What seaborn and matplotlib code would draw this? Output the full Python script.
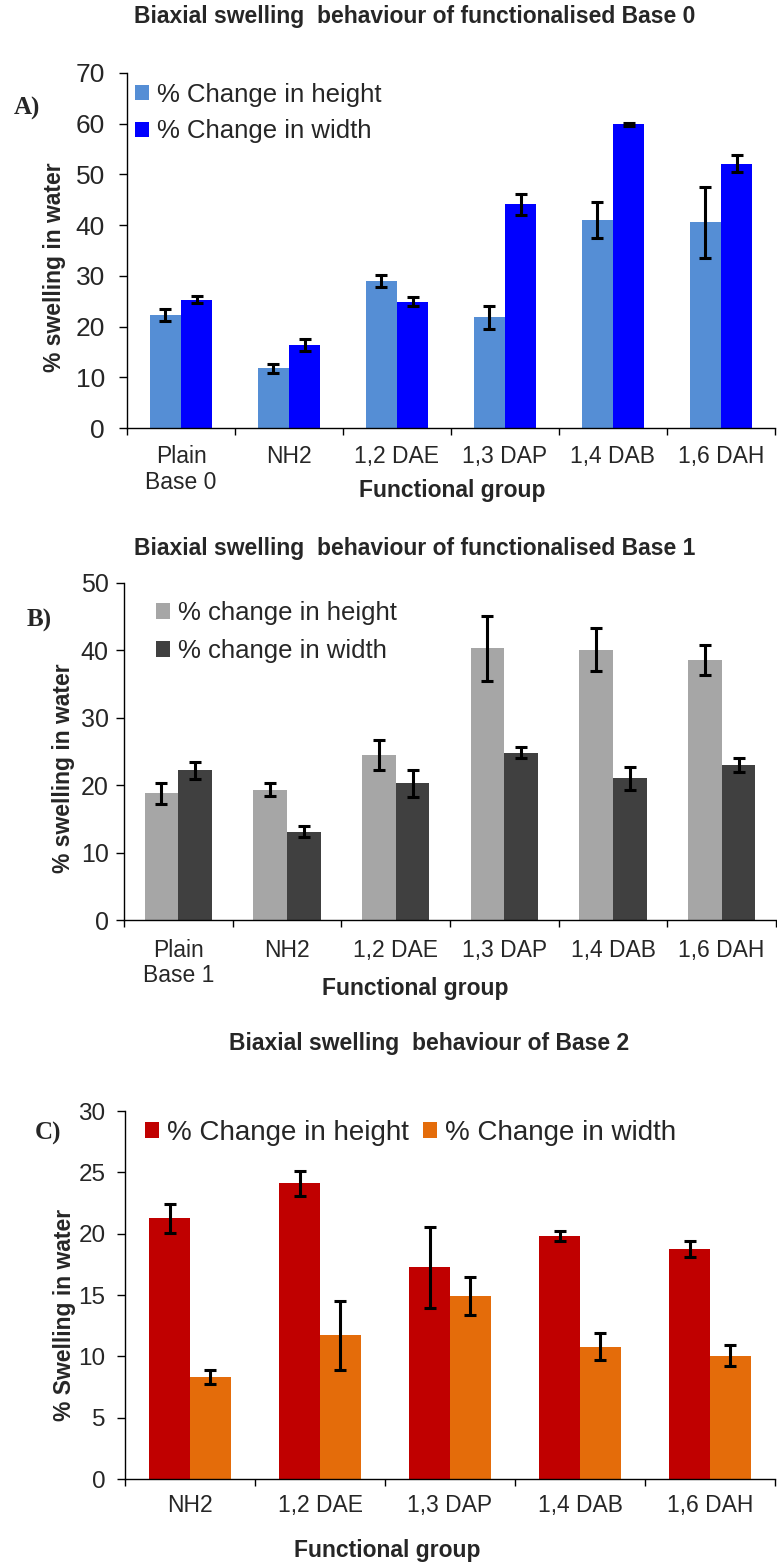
import numpy as np
import pandas as pd
import matplotlib
matplotlib.use("Agg")
import matplotlib.pyplot as plt
import seaborn as sns

# ---------------- data ----------------
groups_a = ["Plain\nBase 0", "NH2", "1,2 DAE", "1,3 DAP", "1,4 DAB", "1,6 DAH"]
height_a = [22.3, 11.8, 29.0, 21.8, 41.0, 40.6]
height_a_err = [1.2, 0.9, 1.1, 2.3, 3.5, 7.0]
width_a = [25.3, 16.4, 24.9, 44.1, 59.9, 52.1]
width_a_err = [0.65, 1.2, 0.9, 2.1, 0.3, 1.7]

groups_b = ["Plain\nBase 1", "NH2", "1,2 DAE", "1,3 DAP", "1,4 DAB", "1,6 DAH"]
height_b = [18.8, 19.35, 24.5, 40.3, 40.1, 38.6]
height_b_err = [1.55, 1.0, 2.2, 4.8, 3.2, 2.2]
width_b = [22.2, 13.1, 20.3, 24.8, 21.0, 23.0]
width_b_err = [1.3, 0.8, 2.0, 0.8, 1.7, 1.0]

groups_c = ["NH2", "1,2 DAE", "1,3 DAP", "1,4 DAB", "1,6 DAH"]
height_c = [21.25, 24.1, 17.25, 19.8, 18.75]
height_c_err = [1.2, 1.0, 3.3, 0.4, 0.65]
width_c = [8.3, 11.7, 14.95, 10.8, 10.05]
width_c_err = [0.55, 2.8, 1.55, 1.1, 0.85]

series_a = ["% Change in height", "% Change in width"]
series_b = ["% change in height", "% change in width"]
series_c = ["% Change in height", "% Change in width"]

colors_a = ["#558ED5", "#0000FF"]
colors_b = ["#A6A6A6", "#404040"]
colors_c = ["#C00000", "#E46C0A"]

# ---------------- style ----------------
sns.set_theme(style="ticks")
plt.rcParams["font.family"] = ["Liberation Sans", "DejaVu Sans"]

W, H = 777, 1564
fig = plt.figure(figsize=(W / 100, H / 100), dpi=100)


def fx(px):
    return px / W


def fy(py):
    return 1 - py / H


def panel(rect, groups, h, herr, w, werr, labels, colors, bw, ymax, ystep,
          ytick_fs, ytick_pad, xtick_pad, title, title_xy, ylabel, ylabel_xy,
          xlabel_xy, letter, letter_xy, leg_xy, leg_fs, leg_ncol, leg_spacing):
    l, t, r, b = rect
    ax = fig.add_axes([fx(l), fy(b), fx(r - l), (b - t) / H])
    n = len(groups)
    df = pd.DataFrame({
        "group": list(groups) * 2,
        "value": list(h) + list(w),
        "series": [labels[0]] * n + [labels[1]] * n,
    })
    sns.barplot(data=df, x="group", y="value", hue="series", order=groups,
                hue_order=labels, palette=colors, width=bw, errorbar=None,
                saturation=1, linewidth=0, ax=ax)
    for cont, err in zip(ax.containers, [herr, werr]):
        xs = [p.get_x() + p.get_width() / 2 for p in cont]
        ys = [p.get_height() for p in cont]
        ax.errorbar(xs, ys, yerr=err, fmt="none", ecolor="black",
                    elinewidth=2.2, capsize=4, capthick=2.2, zorder=5)

    old = ax.get_legend()
    handles = old.legend_handles
    labs = [tx.get_text() for tx in old.texts]
    old.remove()
    hs = 10 / leg_fs
    ax.legend(handles, labs, loc="center left",
              bbox_to_anchor=(fx(leg_xy[0]), fy(leg_xy[1])),
              bbox_transform=fig.transFigure, frameon=False, fontsize=leg_fs,
              handlelength=hs, handleheight=hs, handletextpad=0.3,
              labelspacing=leg_spacing, borderpad=0, borderaxespad=0,
              ncol=leg_ncol, columnspacing=0.5)

    ax.set_ylim(0, ymax)
    ax.set_yticks(np.arange(0, ymax + 0.1, ystep))
    ax.tick_params(axis="y", labelsize=ytick_fs, length=6, width=1,
                   pad=ytick_pad, color="black")
    ax.set_xticks(np.arange(n + 1) - 0.5)
    ax.set_xticklabels([])
    ax.set_xticks(np.arange(n), minor=True)
    ax.set_xticklabels(groups, minor=True, fontsize=16.5, linespacing=1.12)
    ax.tick_params(axis="x", which="major", length=5, width=1, color="black")
    ax.tick_params(axis="x", which="minor", length=0, pad=xtick_pad)
    ax.set_xlim(-0.5, n - 0.5)

    for s in ["top", "right"]:
        ax.spines[s].set_visible(False)
    for s in ["left", "bottom"]:
        ax.spines[s].set_color("black")
        ax.spines[s].set_linewidth(1.0)

    ax.set_xlabel("Functional group", fontsize=16.5, fontweight="bold", va="center")
    ax.xaxis.set_label_coords((xlabel_xy[0] - l) / (r - l), (b - xlabel_xy[1]) / (b - t))
    ax.set_ylabel(ylabel, fontsize=16.5, fontweight="bold", va="center")
    ax.yaxis.set_label_coords((ylabel_xy[0] - l) / (r - l), (b - ylabel_xy[1]) / (b - t))
    ax.set_title(title, fontsize=16.5, fontweight="bold", va="center",
                 x=(title_xy[0] - l) / (r - l), y=(b - title_xy[1]) / (b - t))
    fig.text(fx(letter_xy[0]), fy(letter_xy[1]), letter, fontsize=18,
             fontweight="bold", family=["Liberation Serif", "DejaVu Serif"],
             ha="center", va="center")
    return ax


panel((127, 73, 775, 428), groups_a, height_a, height_a_err, width_a, width_a_err,
      series_a, colors_a, 0.575, 70, 10, 19, 10, 12.5,
      "Biaxial swelling  behaviour of functionalised Base 0", (415, 25),
      "% swelling in water", (55, 267), (452, 490), "A)", (27, 108),
      (135, 113), 18.5, 1, 0.5)

panel((124, 583, 776, 920), groups_b, height_b, height_b_err, width_b, width_b_err,
      series_b, colors_b, 0.62, 50, 10, 18, 5, 13.4,
      "Biaxial swelling  behaviour of functionalised Base 1", (415, 557),
      "% swelling in water", (64, 768), (415, 989), "B)", (39, 620),
      (156, 632), 18.5, 1, 0.55)

panel((125, 1111, 775, 1479), groups_c, height_c, height_c_err, width_c, width_c_err,
      series_c, colors_c, 0.63, 30, 5, 17.5, 8, 10.5,
      "Biaxial swelling  behaviour of Base 2", (429, 1052),
      "% Swelling in water", (64, 1315), (387, 1550), "C)", (48, 1133),
      (145, 1133), 20, 2, 0.4)

fig.savefig("out.png", dpi=100)
